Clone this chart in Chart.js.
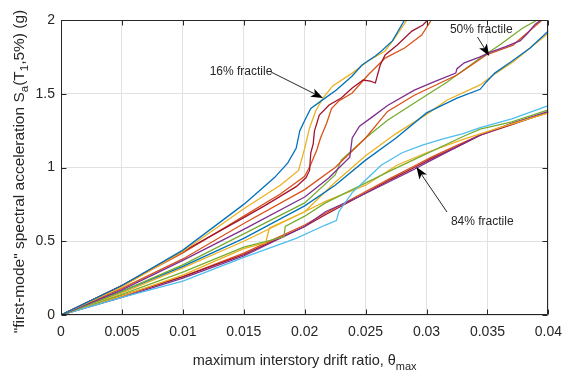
<!DOCTYPE html>
<html><head><meta charset="utf-8">
<script src="https://cdn.jsdelivr.net/npm/chart.js@4/dist/chart.umd.min.js"></script>
<style>html,body{margin:0;padding:0;background:#fff;}#wrap{width:571px;height:372px;}</style>
</head><body><div id="wrap"><canvas id="c" width="571" height="372"></canvas></div>
<script>
// ---------- tick labels ----------
const xTickValues = [0, 0.005, 0.01, 0.015, 0.02, 0.025, 0.03, 0.035, 0.04];
const xTickLabels = ['0', '0.005', '0.01', '0.015', '0.02', '0.025', '0.03', '0.035', '0.04'];
const yTickValues = [0, 0.5, 1, 1.5, 2];
const yTickLabels = ['0', '0.5', '1', '1.5', '2'];

// ---------- IDA curves [drift, Sa] ----------
const curveA1 = [[0,0],[0.005,0.2],[0.01,0.44],[0.015,0.75],[0.0175,0.93],[0.0186,1.03],[0.0193,1.13],[0.0196,1.25],[0.0201,1.335],[0.0205,1.4],[0.0215,1.46],[0.0226,1.525],[0.0239,1.62],[0.0247,1.695],[0.0258,1.756],[0.0263,1.79],[0.0272,1.858],[0.0282,2.0]];
const curveA2 = [[0,0],[0.005,0.19],[0.01,0.43],[0.015,0.72],[0.018,0.88],[0.0195,0.98],[0.02,1.13],[0.0204,1.268],[0.0209,1.383],[0.0215,1.471],[0.0223,1.553],[0.0239,1.64],[0.0252,1.722],[0.0266,1.79],[0.0274,1.878],[0.0284,2.0]];
const curveA3 = [[0,0],[0.005,0.2],[0.01,0.43],[0.015,0.66],[0.0167,0.74],[0.0193,0.87],[0.0201,0.93],[0.0204,0.98],[0.0205,1.1],[0.0207,1.16],[0.0208,1.247],[0.0212,1.356],[0.022,1.424],[0.023,1.471],[0.0239,1.539],[0.0248,1.593],[0.0254,1.586],[0.0258,1.573],[0.0262,1.695],[0.0266,1.763],[0.0276,1.83],[0.0288,1.925],[0.0297,1.966],[0.0301,2.0]];
const curveA4 = [[0,0],[0.005,0.2],[0.01,0.42],[0.015,0.67],[0.018,0.82],[0.02,0.94],[0.0205,1.02],[0.021,1.12],[0.0213,1.2],[0.0218,1.3],[0.0222,1.4],[0.0228,1.451],[0.0239,1.505],[0.0252,1.627],[0.0266,1.742],[0.0282,1.81],[0.0296,1.898],[0.0304,2.0]];
const curveB1 = [[0,0],[0.005,0.17],[0.01,0.37],[0.015,0.58],[0.02,0.8],[0.022,0.93],[0.0237,1.07],[0.0239,1.2],[0.0245,1.28],[0.0255,1.34],[0.0268,1.42],[0.029,1.525],[0.0306,1.58],[0.0324,1.64],[0.0325,1.67],[0.0331,1.71],[0.0344,1.75],[0.0352,1.78],[0.0365,1.82],[0.0377,1.86],[0.0383,1.91],[0.0389,1.97],[0.0394,2.0]];
const curveB2 = [[0,0],[0.005,0.18],[0.01,0.38],[0.015,0.62],[0.02,0.85],[0.0225,1.0],[0.025,1.2],[0.0268,1.38],[0.029,1.49],[0.0325,1.627],[0.0349,1.763],[0.0371,1.83],[0.0393,1.986],[0.0395,2.0]];
const curveB3 = [[0,0],[0.005,0.16],[0.01,0.34],[0.015,0.55],[0.02,0.76],[0.0225,0.95],[0.023,1.05],[0.025,1.2],[0.0268,1.32],[0.029,1.437],[0.0317,1.58],[0.0344,1.742],[0.036,1.83],[0.0379,1.946],[0.0391,2.0]];
const curveB4 = [[0,0],[0.005,0.16],[0.01,0.33],[0.015,0.52],[0.02,0.74],[0.0225,0.88],[0.025,1.05],[0.0275,1.2],[0.03,1.37],[0.0325,1.47],[0.0344,1.53],[0.0349,1.58],[0.0356,1.64],[0.037,1.72],[0.0385,1.81],[0.04,1.925]];
const curveB5 = [[0,0],[0.005,0.15],[0.01,0.32],[0.015,0.5],[0.02,0.7],[0.0225,0.9],[0.025,1.08],[0.0275,1.23],[0.03,1.36],[0.0317,1.458],[0.0344,1.56],[0.0357,1.64],[0.0371,1.715],[0.0385,1.81],[0.04,1.91]];
const curveC1 = [[0,0],[0.005,0.12],[0.01,0.23],[0.015,0.39],[0.0193,0.52],[0.0217,0.61],[0.0226,0.64],[0.0228,0.7],[0.0239,0.83],[0.025,0.915],[0.0263,1.017],[0.028,1.1],[0.0296,1.15],[0.0312,1.19],[0.033,1.23],[0.0344,1.27],[0.037,1.33],[0.04,1.42]];
const curveC2 = [[0,0],[0.005,0.14],[0.01,0.29],[0.015,0.46],[0.0183,0.53],[0.0184,0.6],[0.02,0.67],[0.0217,0.76],[0.0244,0.87],[0.0271,0.98],[0.0298,1.085],[0.033,1.21],[0.0344,1.26],[0.037,1.31],[0.04,1.39]];
const curveC3 = [[0,0],[0.005,0.13],[0.01,0.27],[0.015,0.45],[0.0168,0.49],[0.0171,0.59],[0.02,0.7],[0.0217,0.77],[0.025,0.88],[0.0276,1.017],[0.03,1.1],[0.033,1.19],[0.036,1.27],[0.04,1.37]];
const curveC4 = [[0,0],[0.005,0.12],[0.01,0.25],[0.015,0.4],[0.02,0.6],[0.0217,0.7],[0.0244,0.8],[0.0271,0.91],[0.0288,0.98],[0.0304,1.05],[0.0325,1.14],[0.0344,1.22],[0.037,1.3],[0.04,1.38]];
const curveC5 = [[0,0],[0.005,0.13],[0.01,0.26],[0.015,0.41],[0.02,0.6],[0.0217,0.68],[0.0244,0.8],[0.0271,0.92],[0.029,1.0],[0.0304,1.06],[0.0325,1.14],[0.0344,1.22],[0.037,1.29],[0.04,1.375]];
const curveC6 = [[0,0],[0.005,0.13],[0.01,0.26],[0.015,0.42],[0.02,0.61],[0.0217,0.69],[0.0244,0.81],[0.0271,0.93],[0.029,1.01],[0.0304,1.07],[0.0325,1.15],[0.0344,1.22],[0.037,1.3],[0.04,1.37]];

const curves = [curveA1, curveA2, curveA3, curveA4, curveB1, curveB2, curveB3, curveB4, curveB5, curveC1, curveC2, curveC3, curveC4, curveC5, curveC6];
const curveColors = ['#0072BD','#EDB120','#A2142F','#D95319','#7E2F8E','#D95319','#77AC30','#0072BD','#EDB120','#4DBEEE','#77AC30','#EDB120','#7E2F8E','#A2142F','#D95319'];

// ---------- annotations (data coordinates) ----------
const annotationTexts = ['16% fractile', '50% fractile', '84% fractile'];
const annotationTextAt = [[0.0122, 1.647], [0.03192, 1.932], [0.0320, 0.63]];
const annotationTail = [[0.01725, 1.647], [0.03418, 1.885], [0.03168, 0.698]];
const annotationHead = [[0.0215, 1.471], [0.03515, 1.756], [0.02917, 1.003]];

const FONT = '"Liberation Sans", Arial, sans-serif';
const TXT = '#262626';

function drawRich(ctx, parts, x, y, size, subSize, subDrop) {
  let total = 0;
  parts.forEach(p => { ctx.font = (p.sub ? subSize : size) + 'px ' + FONT; p.w = ctx.measureText(p.t).width; total += p.w; });
  let cx = x - total / 2;
  ctx.textAlign = 'left'; ctx.textBaseline = 'alphabetic';
  parts.forEach(p => {
    ctx.font = (p.sub ? subSize : size) + 'px ' + FONT;
    ctx.fillText(p.t, cx, y + (p.sub ? subDrop : 0));
    cx += p.w;
  });
}

const framePlugin = {
  id: 'frame',
  afterDatasetsDraw(chart) {
    const { ctx, chartArea: a, scales: { x, y } } = chart;
    ctx.save();
    ctx.strokeStyle = TXT; ctx.lineWidth = 1;
    const L = Math.round(a.left) + 0.5, R = Math.round(a.right) - 0.5, T = Math.round(a.top) + 0.5, B = Math.round(a.bottom) - 0.5;
    ctx.beginPath();
    ctx.moveTo(L, T); ctx.lineTo(R, T); ctx.lineTo(R, B); ctx.lineTo(L, B); ctx.closePath();
    xTickValues.forEach(v => {
      const px = Math.round(x.getPixelForValue(v)) + 0.5;
      ctx.moveTo(px, B); ctx.lineTo(px, B - 5);
      ctx.moveTo(px, T); ctx.lineTo(px, T + 5);
    });
    yTickValues.forEach(v => {
      const py = Math.round(y.getPixelForValue(v)) + 0.5;
      ctx.moveTo(L, py); ctx.lineTo(L + 5, py);
      ctx.moveTo(R, py); ctx.lineTo(R - 5, py);
    });
    ctx.stroke();
    ctx.restore();
  },
  afterDraw(chart) {
    const { ctx, chartArea: a, scales: { x, y } } = chart;
    ctx.save();
    ctx.fillStyle = TXT;
    // x title
    drawRich(ctx, [{t: 'maximum interstory drift ratio, \u03B8'}, {t: 'max', sub: true}], (a.left + a.right) / 2, 365, 14.5, 11, 5);
    // y title
    ctx.save();
    ctx.translate(24, (a.top + a.bottom) / 2 + 4);
    ctx.rotate(-Math.PI / 2);
    drawRich(ctx, [{t: '"first-mode" spectral acceleration S'}, {t: 'a', sub: true}, {t: '(T'}, {t: '1', sub: true}, {t: ',5%) (g)'}], 0, 0, 15.5, 11.5, 4);
    ctx.restore();
    // annotations
    ctx.font = '12px ' + FONT;
    ctx.textAlign = 'left'; ctx.textBaseline = 'middle';
    annotationTexts.forEach((t, i) => {
      ctx.fillStyle = TXT;
      ctx.fillText(t, x.getPixelForValue(annotationTextAt[i][0]), y.getPixelForValue(annotationTextAt[i][1]));
      const x0 = x.getPixelForValue(annotationTail[i][0]), y0 = y.getPixelForValue(annotationTail[i][1]);
      const x1 = x.getPixelForValue(annotationHead[i][0]), y1 = y.getPixelForValue(annotationHead[i][1]);
      const ang = Math.atan2(y1 - y0, x1 - x0);
      const len = 12, hw = 4.5, notch = 9;
      ctx.strokeStyle = TXT; ctx.lineWidth = 1;
      ctx.beginPath();
      ctx.moveTo(x0, y0);
      ctx.lineTo(x1 - Math.cos(ang) * notch, y1 - Math.sin(ang) * notch);
      ctx.stroke();
      ctx.fillStyle = '#000';
      ctx.beginPath();
      ctx.moveTo(x1, y1);
      ctx.lineTo(x1 - Math.cos(ang) * len - Math.sin(ang) * hw, y1 - Math.sin(ang) * len + Math.cos(ang) * hw);
      ctx.lineTo(x1 - Math.cos(ang) * notch, y1 - Math.sin(ang) * notch);
      ctx.lineTo(x1 - Math.cos(ang) * len + Math.sin(ang) * hw, y1 - Math.sin(ang) * len - Math.cos(ang) * hw);
      ctx.closePath();
      ctx.fill();
    });
    ctx.restore();
  }
};

new Chart(document.getElementById('c'), {
  type: 'line',
  data: {
    datasets: curves.map((c, i) => ({
      data: c.map(p => ({ x: p[0], y: p[1] })),
      borderColor: curveColors[i],
      borderWidth: 1.3,
      pointRadius: 0,
      tension: 0,
      fill: false
    }))
  },
  options: {
    responsive: false,
    animation: false,
    devicePixelRatio: 1,
    layout: { padding: { left: 0, right: 15, top: 20, bottom: 0 } },
    plugins: { legend: { display: false }, tooltip: { enabled: false } },
    scales: {
      x: {
        type: 'linear', min: 0, max: 0.04,
        afterBuildTicks: s => { s.ticks = xTickValues.map(v => ({ value: v })); },
        afterFit: s => { s.height = 57; },
        ticks: { callback: (v, i) => xTickLabels[i], color: TXT, font: { family: FONT, size: 14 }, padding: 9, maxRotation: 0, autoSkip: false },
        grid: { color: '#e2e2e2', lineWidth: 1, drawTicks: false },
        border: { display: false }
      },
      y: {
        type: 'linear', min: 0, max: 2,
        afterBuildTicks: s => { s.ticks = yTickValues.map(v => ({ value: v })); },
        afterFit: s => { s.width = 61; },
        ticks: { callback: (v, i) => yTickLabels[i], color: TXT, font: { family: FONT, size: 14 }, padding: 6 },
        grid: { color: '#e2e2e2', lineWidth: 1, drawTicks: false },
        border: { display: false }
      }
    }
  },
  plugins: [framePlugin]
});
</script>
</body></html>
